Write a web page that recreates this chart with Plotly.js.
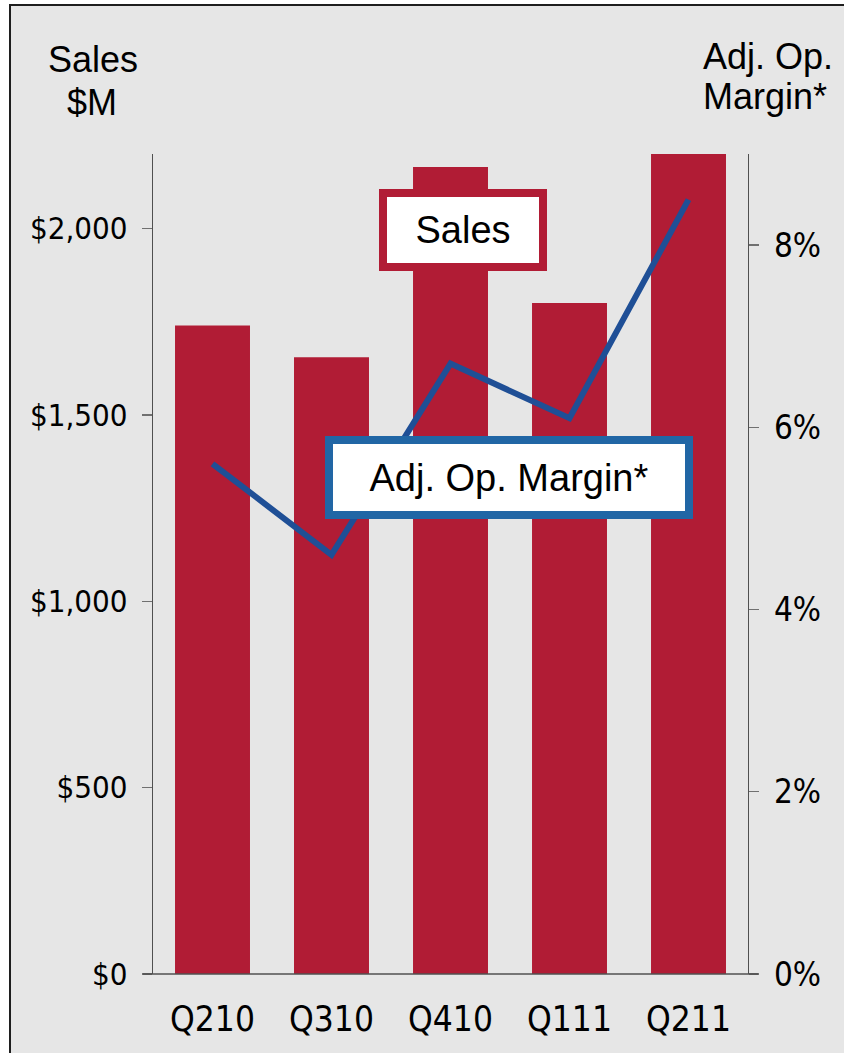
<!DOCTYPE html>
<html><head><meta charset="utf-8">
<script src="https://cdn.plot.ly/plotly-3.0.1.min.js"></script>
<style>html,body{margin:0;padding:0;background:#fff;}#chart{width:844px;height:1053px;}</style>
</head><body><div id="chart"></div>
<script>
// ---- data ----
const quarters = ['Q210', 'Q310', 'Q410', 'Q111', 'Q211'];
const salesM = [1740, 1655, 2165, 1800, 2208];
const adjOpMargin = [5.6, 4.6, 6.7, 6.1, 8.5];
const salesTickVals = [0, 500, 1000, 1500, 2000];
const salesTickText = ['$0', '$500', '$1,000', '$1,500', '$2,000'];
const marginTickVals = [0, 2, 4, 6, 8];
const marginTickText = ['0%', '2%', '4%', '6%', '8%'];

// ---- layout helpers (pixel -> paper) ----
const M = {l: 153, r: 96, t: 154, b: 79};
const W = 844, H = 1053;
const pw = W - M.l - M.r, ph = H - M.t - M.b;
const px = x => (x - M.l) / pw;
const py = y => (H - M.b - y) / ph;

const red = '#b11c35';
const blue = '#1f4f96';
const boxBlue = '#2166a5';
const tickFont = 'DejaVu Sans Condensed, DejaVu Sans, sans-serif';
const titleFont = 'Liberation Sans, Arial, sans-serif';

const traces = [
  {type: 'bar', x: quarters, y: salesM, marker: {color: red}, yaxis: 'y', cliponaxis: false, hoverinfo: 'none'},
  {type: 'scatter', mode: 'lines', x: quarters, y: adjOpMargin, yaxis: 'y2',
   line: {color: blue, width: 6}, hoverinfo: 'none'}
];

const layout = {
  width: W, height: H,
  margin: M,
  paper_bgcolor: '#ffffff',
  plot_bgcolor: 'rgba(0,0,0,0)',
  showlegend: false,
  bargap: 0.37,
  xaxis: {
    type: 'category', showline: false, showgrid: false, zeroline: false, ticks: '',
    tickfont: {family: tickFont, size: 35, color: '#000'}, ticklabelstandoff: 21
  },
  yaxis: {
    range: [0, 2200], showgrid: false, zeroline: false, showline: true,
    linecolor: '#505050', linewidth: 1.3,
    ticks: 'outside', ticklen: 10, tickcolor: '#707070', tickwidth: 1.3,
    tickvals: salesTickVals, ticktext: salesTickText,
    tickfont: {family: tickFont, size: 31, color: '#000'}, ticklabelstandoff: 8
  },
  yaxis2: {
    range: [0, 9], overlaying: 'y', side: 'right', showgrid: false, zeroline: false, showline: true,
    linecolor: '#505050', linewidth: 1.3,
    ticks: 'outside', ticklen: 10, tickcolor: '#707070', tickwidth: 1.3,
    tickvals: marginTickVals, ticktext: marginTickText,
    tickfont: {family: tickFont, size: 33, color: '#000'}, ticklabelstandoff: 8
  },
  shapes: [
    {type: 'rect', xref: 'paper', yref: 'paper', layer: 'below',
     x0: px(10), x1: px(870), y0: py(5), y1: py(1080),
     fillcolor: '#e6e6e6', line: {color: '#1e1e1e', width: 2}},
    {type: 'line', xref: 'paper', yref: 'paper', layer: 'above',
     x0: px(143), x1: px(758), y0: 0, y1: 0,
     line: {color: '#505050', width: 1.3}}
  ],
  annotations: [
    {text: 'Sales', xref: 'paper', yref: 'paper', x: px(92.5), y: py(60), xanchor: 'center', yanchor: 'middle',
     showarrow: false, font: {family: titleFont, size: 36, color: '#000'}},
    {text: '$M', xref: 'paper', yref: 'paper', x: px(92), y: py(103), xanchor: 'center', yanchor: 'middle',
     showarrow: false, font: {family: titleFont, size: 36, color: '#000'}},
    {text: 'Adj. Op.', xref: 'paper', yref: 'paper', x: px(701), y: py(57), xanchor: 'left', yanchor: 'middle',
     showarrow: false, font: {family: titleFont, size: 36, color: '#000'}},
    {text: 'Margin*', xref: 'paper', yref: 'paper', x: px(701), y: py(97), xanchor: 'left', yanchor: 'middle',
     showarrow: false, font: {family: titleFont, size: 36, color: '#000'}},
    {text: 'Sales', xref: 'paper', yref: 'paper', x: px(462.5), y: py(230.5), xanchor: 'center', yanchor: 'middle',
     showarrow: false, width: 152, height: 66, borderpad: 0, borderwidth: 8,
     bordercolor: red, bgcolor: '#ffffff', align: 'center', valign: 'middle',
     font: {family: titleFont, size: 38, color: '#000'}},
    {text: 'Adj. Op. Margin*', xref: 'paper', yref: 'paper', x: px(508.5), y: py(477.5), xanchor: 'center', yanchor: 'middle',
     showarrow: false, width: 352, height: 67, borderpad: 0, borderwidth: 8,
     bordercolor: boxBlue, bgcolor: '#ffffff', align: 'center', valign: 'middle',
     font: {family: titleFont, size: 38, color: '#000'}}
  ]
};

Plotly.newPlot('chart', traces, layout, {staticPlot: true, displayModeBar: false});
</script>
</body></html>
